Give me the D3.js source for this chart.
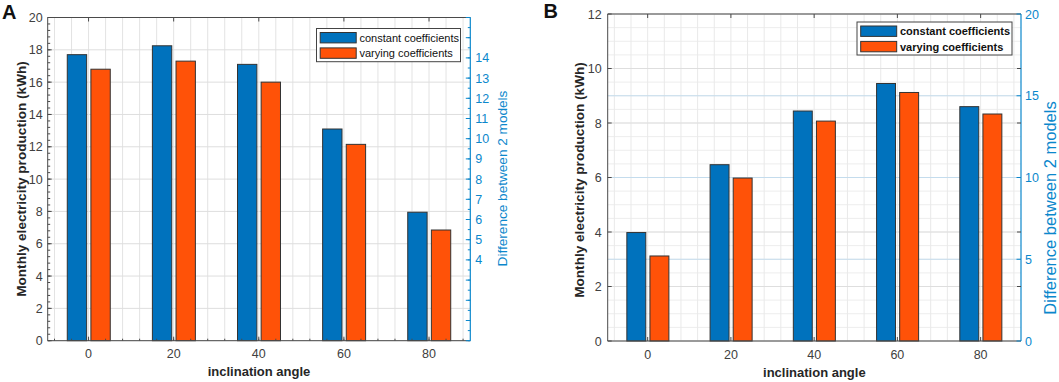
<!DOCTYPE html>
<html>
<head>
<meta charset="utf-8">
<script src="https://cdn.jsdelivr.net/npm/d3@7"></script>
<style>
  body { margin: 0; background: #fff; }
  svg { display: block; font-family: "Liberation Sans", Arial, sans-serif; }
</style>
</head>
<body>
<svg id="chart" width="1059" height="382"></svg>
<script>
// data
const angles = [0, 20, 40, 60, 80];
const seriesNames = ["constant coefficients", "varying coefficients"];
const constantA = [17.7, 18.25, 17.1, 13.1, 7.95];
const varyingA = [16.8, 17.3, 16.0, 12.15, 6.85];
const constantB = [3.98, 6.47, 8.44, 9.45, 8.6];
const varyingB = [3.12, 5.98, 8.07, 9.12, 8.33];
const leftTicksA = d3.range(0, 21, 2);
const rightTicksA = d3.range(4, 15, 1);
const leftTicksB = d3.range(0, 13, 2);
const rightTicksB = [0, 5, 10, 15, 20];

const colors = ["#0072BD", "#FF5208"];
const rightColor = "#0b87cc";
const axisColor = "#4a4a4a";
const textColor = "#404040";

const svg = d3.select("#chart");

function drawPanel(cfg) {
  const g = svg.append("g");
  const x = d3.scaleLinear().domain([-9.6, 89.7]).range([cfg.left, cfg.right]);
  const y = d3.scaleLinear().domain([0, cfg.yMax]).range([cfg.bottom, cfg.top]);
  const yR = d3.scaleLinear().domain([0, cfg.rMax]).range([cfg.bottom, cfg.top]);

  // grid
  const grid = g.append("g");
  if (cfg.minorY) {
    grid.selectAll(".hmin").data(d3.range(0, cfg.yMax + 0.01, cfg.minorY)).join("line")
      .attr("x1", cfg.left).attr("x2", cfg.right)
      .attr("y1", d => y(d)).attr("y2", d => y(d))
      .attr("stroke", "#ededed");
  }
  grid.selectAll(".vmin").data(d3.range(-8, 89, 4)).join("line")
    .attr("x1", d => x(d)).attr("x2", d => x(d))
    .attr("y1", cfg.top).attr("y2", cfg.bottom)
    .attr("stroke", cfg.minorY ? "#e9e9e9" : "#e3e3e3");
  grid.selectAll(".hmaj").data(cfg.leftTicks).join("line")
    .attr("x1", cfg.left).attr("x2", cfg.right)
    .attr("y1", d => y(d)).attr("y2", d => y(d))
    .attr("stroke", "#dedede");
  if (cfg.rightGrid) {
    grid.selectAll(".hr").data(cfg.rightTicks.filter(d => d > 0 && d < cfg.rMax)).join("line")
      .attr("x1", cfg.left).attr("x2", cfg.right)
      .attr("y1", d => yR(d)).attr("y2", d => yR(d))
      .attr("stroke", "#c4dced");
  }

  // bars
  const offsets = [[-5, -0.45], [0.55, 5.1]];
  cfg.series.forEach((vals, si) => {
    g.append("g").selectAll("rect")
      .data(angles.map((a, i) => ({ a, v: vals[i] })))
      .join("rect")
      .attr("x", d => x(d.a + offsets[si][0]))
      .attr("width", d => x(d.a + offsets[si][1]) - x(d.a + offsets[si][0]))
      .attr("y", d => y(d.v))
      .attr("height", d => y(0) - y(d.v))
      .attr("fill", colors[si])
      .attr("stroke", "#333")
      .attr("stroke-width", 1);
  });

  // box
  g.append("line").attr("x1", cfg.left).attr("x2", cfg.right)
    .attr("y1", cfg.top).attr("y2", cfg.top).attr("stroke", axisColor);
  g.append("line").attr("x1", cfg.left).attr("x2", cfg.right)
    .attr("y1", cfg.bottom).attr("y2", cfg.bottom).attr("stroke", axisColor);
  g.append("line").attr("x1", cfg.left).attr("x2", cfg.left)
    .attr("y1", cfg.top).attr("y2", cfg.bottom).attr("stroke", axisColor);

  // x ticks
  g.selectAll(".xt").data(angles).join("line")
    .attr("x1", d => x(d)).attr("x2", d => x(d))
    .attr("y1", cfg.bottom).attr("y2", cfg.bottom - 4).attr("stroke", axisColor);
  g.selectAll(".xtt").data(angles).join("line")
    .attr("x1", d => x(d)).attr("x2", d => x(d))
    .attr("y1", cfg.top).attr("y2", cfg.top + 4).attr("stroke", axisColor);
  if (cfg.minorX) {
    g.selectAll(".xm").data(d3.range(-8, 89, 4)).join("line")
      .attr("x1", d => x(d)).attr("x2", d => x(d))
      .attr("y1", cfg.bottom).attr("y2", cfg.bottom - 2).attr("stroke", axisColor);
  }
  g.selectAll(".xl").data(angles).join("text")
    .attr("x", d => x(d)).attr("y", cfg.bottom + 17.5)
    .attr("text-anchor", "middle").attr("font-size", 12.5).attr("fill", textColor)
    .text(d => d);

  // left y ticks
  g.selectAll(".yt").data(cfg.leftTicks).join("line")
    .attr("x1", cfg.left).attr("x2", cfg.left + 4)
    .attr("y1", d => y(d)).attr("y2", d => y(d)).attr("stroke", axisColor);
  if (cfg.minorLeft) {
    g.selectAll(".ym").data(d3.range(0, cfg.yMax + 0.01, cfg.minorLeft)).join("line")
      .attr("x1", cfg.left).attr("x2", cfg.left + 2.5)
      .attr("y1", d => y(d)).attr("y2", d => y(d)).attr("stroke", axisColor);
  }
  g.selectAll(".yl").data(cfg.leftTicks).join("text")
    .attr("x", cfg.left - cfg.labelGap).attr("y", d => y(d)).attr("dy", "0.36em")
    .attr("text-anchor", "end").attr("font-size", 12.5).attr("fill", textColor)
    .text(d => d);

  // right axis
  g.append("line").attr("x1", cfg.right).attr("x2", cfg.right)
    .attr("y1", cfg.top).attr("y2", cfg.bottom).attr("stroke", rightColor).attr("stroke-width", 1.2);
  if (cfg.mirrorLeft) {
    g.selectAll(".ymr").data(cfg.leftTicks.filter(d => d > 0 && d < cfg.yMax)).join("line")
      .attr("x1", cfg.right).attr("x2", cfg.right - 4)
      .attr("y1", d => y(d)).attr("y2", d => y(d)).attr("stroke", axisColor);
  }
  if (cfg.rightMinor) {
    g.selectAll(".rm").data(d3.range(0, cfg.rMax + 0.01, cfg.rightMinor)).join("line")
      .attr("x1", cfg.right).attr("x2", cfg.right - 2.5)
      .attr("y1", d => yR(d)).attr("y2", d => yR(d)).attr("stroke", rightColor);
  }
  g.selectAll(".rt").data(cfg.rightTickMarks).join("line")
    .attr("x1", cfg.right).attr("x2", cfg.right - 4.5)
    .attr("y1", d => yR(d)).attr("y2", d => yR(d)).attr("stroke", rightColor);
  g.selectAll(".rl").data(cfg.rightTicks).join("text")
    .attr("x", cfg.right + cfg.rightGap).attr("y", d => yR(d)).attr("dy", "0.36em")
    .attr("font-size", 12.5).attr("fill", rightColor)
    .text(d => d);

  // titles
  g.append("text")
    .attr("transform", `translate(${(cfg.left + cfg.right) / 2},${cfg.bottom + 35.5})`)
    .attr("text-anchor", "middle").attr("font-size", 13).attr("font-weight", "bold")
    .attr("fill", "#262626").text("inclination angle");
  g.append("text")
    .attr("transform", `translate(${cfg.yTitleX},${cfg.yTitleY}) rotate(-90)`)
    .attr("text-anchor", "middle").attr("font-size", 13.6).attr("font-weight", "bold")
    .attr("fill", "#262626").text("Monthly electricity production (kWh)");
  g.append("text")
    .attr("transform", `translate(${cfg.rTitleX},${cfg.rTitleY}) rotate(-90)`)
    .attr("text-anchor", "middle").attr("font-size", cfg.rTitleSize)
    .attr("fill", rightColor).text("Difference between 2 models");
  g.append("text")
    .attr("x", cfg.letterX).attr("y", cfg.letterY)
    .attr("font-size", 20).attr("font-weight", "bold").attr("fill", "#111")
    .text(cfg.letter);

  // legend
  const L = cfg.legend;
  const lg = g.append("g");
  lg.append("rect").attr("x", L.x).attr("y", L.y).attr("width", L.w).attr("height", L.h)
    .attr("fill", "#fff").attr("stroke", "#444").attr("stroke-width", 1);
  seriesNames.forEach((name, i) => {
    const yy = L.y + 4 + i * 15.4;
    lg.append("rect").attr("x", L.x + 3.7).attr("y", yy).attr("width", 36).attr("height", 10.4)
      .attr("fill", colors[i]).attr("stroke", "#333");
    lg.append("text").attr("x", L.x + 43).attr("y", yy + 5.2).attr("dy", "0.36em")
      .attr("font-size", 11).attr("font-weight", L.bold ? "bold" : "normal")
      .attr("fill", "#111").text(name);
  });
}

drawPanel({
  letter: "A", letterX: 2, letterY: 18.5,
  left: 47.7, right: 470.3, top: 17.5, bottom: 340.7,
  yMax: 20, rMax: 16,
  leftTicks: leftTicksA, rightTicks: rightTicksA, rightTickMarks: d3.range(0, 17, 1),
  series: [constantA, varyingA],
  minorX: true, minorLeft: 0.4, rightMinor: 0.5, mirrorLeft: false,
  labelGap: 5, rightGap: 5,
  yTitleX: 26, yTitleY: 179,
  rTitleX: 506.5, rTitleY: 178.5, rTitleSize: 13.6,
  legend: { x: 316.5, y: 28.5, w: 144, h: 33.2, bold: false }
});

drawPanel({
  letter: "B", letterX: 543.5, letterY: 17.8,
  left: 607.7, right: 1021, top: 14, bottom: 341,
  yMax: 12, rMax: 20,
  leftTicks: leftTicksB, rightTicks: rightTicksB, rightTickMarks: rightTicksB,
  series: [constantB, varyingB],
  minorX: false, minorY: 0.5, minorLeft: 0, rightMinor: 0, mirrorLeft: true, rightGrid: true,
  labelGap: 6, rightGap: 4,
  yTitleX: 584, yTitleY: 180,
  rTitleX: 1056, rTitleY: 208, rTitleSize: 16.5,
  legend: { x: 857, y: 22, w: 155, h: 33, bold: true }
});
</script>
</body>
</html>
